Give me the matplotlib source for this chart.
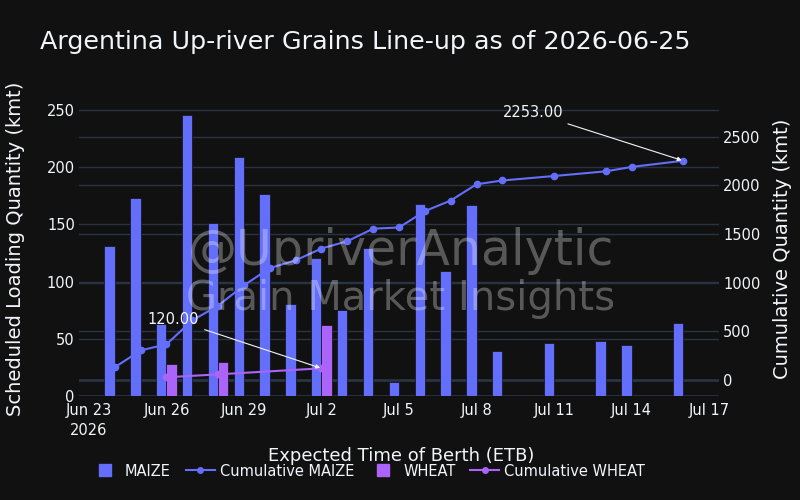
import numpy as np
import matplotlib
matplotlib.use("Agg")
import matplotlib.pyplot as plt
import matplotlib.dates as mdates
from matplotlib.lines import Line2D
import datetime as dt

# ---- data ----
maize_dates = ["2026-06-24", "2026-06-25", "2026-06-26", "2026-06-27", "2026-06-28",
               "2026-06-29", "2026-06-30", "2026-07-01", "2026-07-02", "2026-07-03",
               "2026-07-04", "2026-07-05", "2026-07-06", "2026-07-07", "2026-07-08",
               "2026-07-09", "2026-07-11", "2026-07-13", "2026-07-14", "2026-07-16"]
maize_qty = [131, 173, 63, 246, 151, 209, 177, 80, 121, 75,
             129, 12, 168, 109, 167, 39, 46, 48, 45, 64]
wheat_dates = ["2026-06-26", "2026-06-28", "2026-07-02"]
wheat_qty = [28, 30, 62]
tick_dates = ["2026-06-23", "2026-06-26", "2026-06-29", "2026-07-02", "2026-07-05",
              "2026-07-08", "2026-07-11", "2026-07-14", "2026-07-17"]
tick_labels = ["Jun 23\n2026", "Jun 26", "Jun 29", "Jul 2", "Jul 5",
               "Jul 8", "Jul 11", "Jul 14", "Jul 17"]
title = "Argentina Up-river Grains Line-up as of 2026-06-25"

# ---- style ----
BG = "#111111"
GRID = "#283442"
FG = "#f2f5fa"
C_MAIZE = "#636efa"
C_WHEAT = "#ab63fa"
plt.rcParams['font.family'] = ['DejaVu Sans']

def to_num(ds):
    return mdates.date2num([dt.datetime.strptime(d, "%Y-%m-%d") for d in ds])

mx = to_num(maize_dates)
wx = to_num(wheat_dates)
tx = to_num(tick_dates)
maize_cum = np.cumsum(maize_qty)
wheat_cum = np.cumsum(wheat_qty)

W, H = 800, 500
fig = plt.figure(figsize=(8, 5), dpi=100, facecolor=BG)
L, R, B, T = 79, 719, 396, 101
rect = [L / W, 1 - B / H, (R - L) / W, (B - T) / H]

xlim = (tx[0] - 0.387, tx[-1] + 0.387)
ylim_left = (0, 257.9)
ylim_right = (-164.4, 2866.8)

# bottom axes: right-axis grid
axg = fig.add_axes(rect)
axg.set_facecolor(BG)
axg.set_xlim(*xlim)
axg.set_ylim(*ylim_right)
axg.set_yticks([0, 500, 1000, 1500, 2000, 2500])
axg.yaxis.grid(True, color=GRID, lw=1)
axg.axhline(0, color=GRID, lw=2)
axg.tick_params(left=False, bottom=False, labelleft=False, labelbottom=False)
for s in axg.spines.values():
    s.set_visible(False)

# bars axes
ax = fig.add_axes(rect)
ax.patch.set_alpha(0)
ax.set_xlim(*xlim)
ax.set_ylim(*ylim_left)
ax.set_axisbelow(True)
ax.yaxis.grid(True, color=GRID, lw=1)
ax.axhline(0, color=GRID, lw=2, zorder=0.5)
bw = 0.4
ax.bar(mx - bw / 2, maize_qty, width=bw, color=C_MAIZE, edgecolor=BG, linewidth=0.5, zorder=2)
ax.bar(wx + bw / 2, wheat_qty, width=bw, color=C_WHEAT, edgecolor=BG, linewidth=0.5, zorder=2)
ax.set_yticks([0, 50, 100, 150, 200, 250])
ax.set_xticks(tx)
ax.set_xticklabels(tick_labels)
ax.tick_params(axis='both', colors=FG, labelsize=10.5, length=0)
ax.tick_params(axis='y', pad=3)
ax.tick_params(axis='x', pad=5)
for lab in ax.get_xticklabels():
    lab.set_linespacing(1.4)
for s in ax.spines.values():
    s.set_visible(False)
ax.set_ylabel("Scheduled Loading Quantity (kmt)", color=FG, fontsize=14, va='center')
ax.yaxis.set_label_coords(-(L - 16) / (R - L), 0.5)
ax.set_xlabel("Expected Time of Berth (ETB)", color=FG, fontsize=13, va='center')
ax.xaxis.set_label_coords((401 - L) / (R - L), -(456 - B) / (B - T))

# lines axes
ax2 = ax.twinx()
ax2.set_ylim(*ylim_right)
ax2.set_xlim(*xlim)
ax2.plot(mx, maize_cum, color=C_MAIZE, lw=1.5, marker='o', ms=4.5, zorder=3)
ax2.plot(wx, wheat_cum, color=C_WHEAT, lw=1.5, marker='o', ms=4.5, zorder=3)
ax2.set_yticks([0, 500, 1000, 1500, 2000, 2500])
ax2.tick_params(axis='y', colors=FG, labelsize=10.5, length=0, pad=3)
for s in ax2.spines.values():
    s.set_visible(False)
ax2.set_ylabel("Cumulative Quantity (kmt)", color=FG, fontsize=14, va='center')
ax2.yaxis.set_label_coords((782 - L) / (R - L), 0.5)

# annotations
ax2.annotate(f"{maize_cum[-1]:.2f}", xy=(mx[-1], maize_cum[-1]), xytext=(-150, 48),
             textcoords='offset pixels', color=FG, fontsize=10.5, ha='center', va='center',
             arrowprops=dict(arrowstyle='-|>', color=FG, lw=0.8, mutation_scale=6,
                             shrinkA=2, shrinkB=1))
ax2.annotate(f"{wheat_cum[-1]:.2f}", xy=(wx[-1], wheat_cum[-1]), xytext=(-148, 49),
             textcoords='offset pixels', color=FG, fontsize=10.5, ha='center', va='center',
             arrowprops=dict(arrowstyle='-|>', color=FG, lw=0.8, mutation_scale=6,
                             shrinkA=2, shrinkB=1))

# title
fig.text(40 / W, 1 - 42 / H, title, color=FG, fontsize=18.25, ha='left', va='center')

# watermark
fig.text(401 / W, 1 - 265 / H, "@UpriverAnalytic", color='white', alpha=0.3,
         fontsize=35.3, ha='center', va='baseline', zorder=10)
fig.text(401 / W, 1 - 310 / H, "Grain Market Insights", color='white', alpha=0.3,
         fontsize=28.9, ha='center', va='baseline', zorder=10)

# legend
handles = [
    Line2D([], [], color=C_MAIZE, marker='s', ls='none', ms=9),
    Line2D([], [], color=C_MAIZE, marker='o', ms=4, lw=1.5),
    Line2D([], [], color=C_WHEAT, marker='s', ls='none', ms=9),
    Line2D([], [], color=C_WHEAT, marker='o', ms=4, lw=1.5),
]
labels = ["MAIZE", "Cumulative MAIZE", "WHEAT", "Cumulative WHEAT"]
leg = fig.legend(handles, labels, ncol=4, loc='center', bbox_to_anchor=(368 / W, 1 - 471 / H),
                 frameon=False, fontsize=10.5, labelcolor=FG, handlelength=2.0,
                 handletextpad=0.35, columnspacing=1.0)

fig.savefig("out.png", dpi=100, facecolor=BG)
